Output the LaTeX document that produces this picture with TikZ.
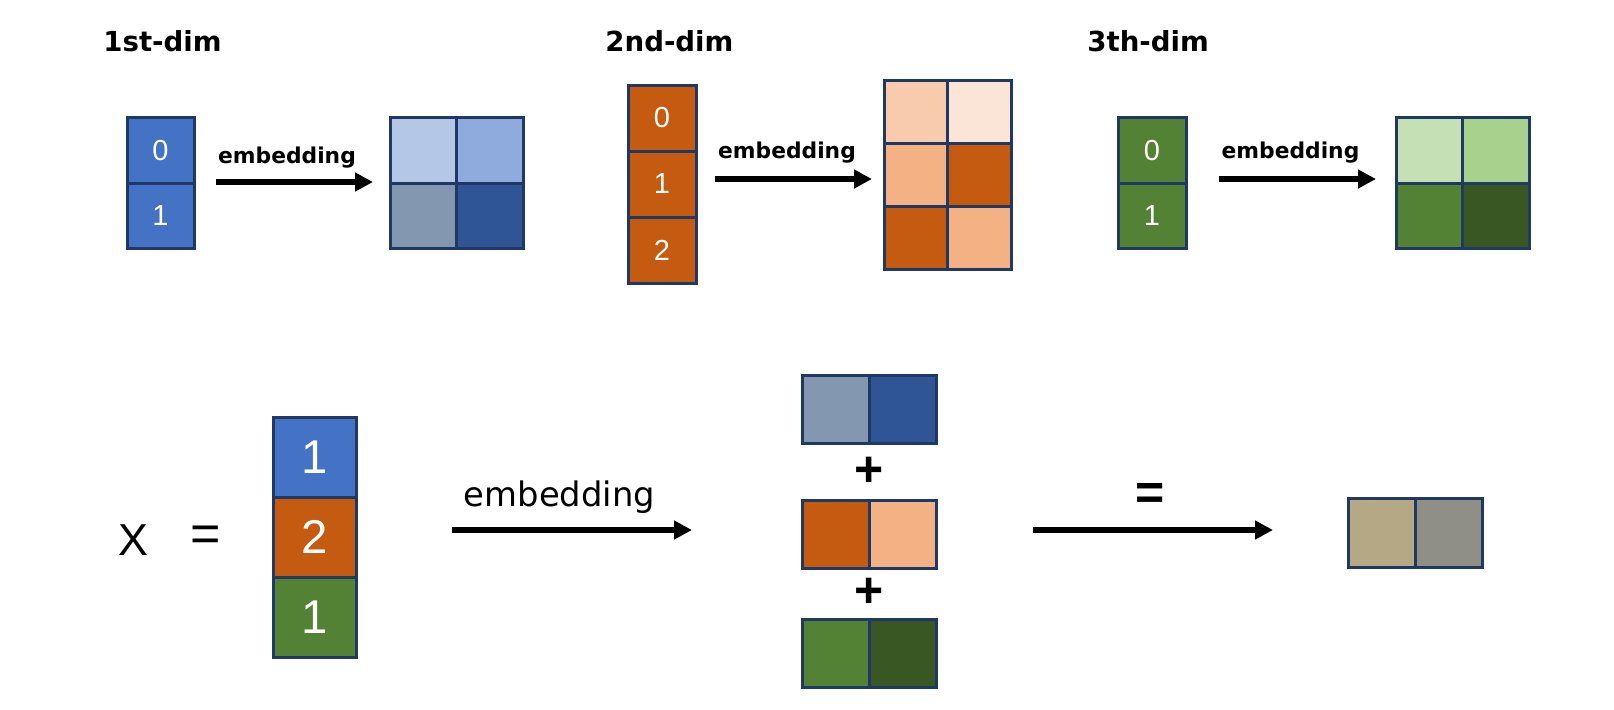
\documentclass[tikz,border=0pt]{standalone}
\usepackage{fontspec}
\setmainfont{DejaVu Sans}
\newfontfamily\lib{Liberation Sans}
\usetikzlibrary{arrows.meta}
\definecolor{navy}{HTML}{1F3864}
\definecolor{cblue}{HTML}{4472C4}
\definecolor{lbA}{HTML}{B4C7E7}
\definecolor{lbB}{HTML}{8FAADC}
\definecolor{gbl}{HTML}{8497B0}
\definecolor{dbl}{HTML}{2F5597}
\definecolor{corange}{HTML}{C55A11}
\definecolor{loA}{HTML}{F8CBAD}
\definecolor{loB}{HTML}{FBE5D6}
\definecolor{loC}{HTML}{F4B183}
\definecolor{cgreen}{HTML}{548235}
\definecolor{lgA}{HTML}{C5E0B4}
\definecolor{lgB}{HTML}{A9D18E}
\definecolor{dgr}{HTML}{385723}
\definecolor{tan}{HTML}{B5A885}
\definecolor{gry}{HTML}{8F8F85}
\tikzset{
  cell/.style={rectangle, draw=navy, line width=1.5pt, inner sep=0pt, text=white},
  smalldig/.style={font=\lib\fontsize{14.5}{14.5}\selectfont},
  bigdig/.style={font=\lib\fontsize{23.7}{23.7}\selectfont},
  sq/.style={minimum width=33.5pt, minimum height=32.75pt},
  colsq/.style={minimum width=34pt, minimum height=32.75pt},
  title/.style={font=\bfseries\fontsize{13.8}{13.8}\selectfont, anchor=base west, inner sep=0pt},
  smalllab/.style={font=\bfseries\fontsize{10.9}{10.9}\selectfont, anchor=base, inner sep=0pt},
  biglab/.style={font=\fontsize{16.9}{16.9}\selectfont, anchor=base, inner sep=0pt},
  arrsmall/.style={line width=2.8pt, -{Triangle[length=9pt,width=9pt]}},
  arrbig/.style={line width=3pt, -{Triangle[length=9pt,width=9pt]}},
  sym/.style={inner sep=0pt},
}
\begin{document}
\begin{tikzpicture}[x=0.5pt,y=-0.5pt]
\useasboundingbox (0,0) rectangle (1614,709);

% ---------- 1st-dim ----------
\node[title] (t1) at (103,51) {1st-dim};
\node[cell, smalldig, colsq, minimum width=33.5pt, fill=cblue] (a0) at (160.5,150.5) {0};
\node[cell, smalldig, colsq, minimum width=33.5pt, fill=cblue] (a1) at (160.5,216) {1};
\coordinate (as) at (216,182);
\coordinate (ae) at (373,182);
\draw[arrsmall] (as) -- (ae);
\node[smalllab] (l1) at (287,163) {embedding};
\node[cell, sq, minimum width=33.25pt, fill=lbA] (m11) at (423.25,150.5) {};
\node[cell, sq, minimum width=33.25pt, fill=lbB] (m12) at (489.75,150.5) {};
\node[cell, sq, minimum width=33.25pt, fill=gbl] (m21) at (423.25,216) {};
\node[cell, sq, minimum width=33.25pt, fill=dbl] (m22) at (489.75,216) {};

% ---------- 2nd-dim ----------
\node[title] (t2) at (605,51) {2nd-dim};
\node[cell, smalldig, minimum width=34pt, minimum height=33pt, fill=corange] (b0) at (662,118) {0};
\node[cell, smalldig, minimum width=34pt, minimum height=33pt, fill=corange] (b1) at (662,184) {1};
\node[cell, smalldig, minimum width=34pt, minimum height=33pt, fill=corange] (b2) at (662,250) {2};
\coordinate (bs) at (715,179);
\coordinate (be) at (872,179);
\draw[arrsmall] (bs) -- (be);
\node[smalllab] (l2) at (787,158) {embedding};
\tikzset{osq/.style={minimum width=31.75pt, minimum height=31.5pt}}
\node[cell, osq, fill=loA] (n11) at (915.75,111.5) {};
\node[cell, osq, fill=loB] (n12) at (979.25,111.5) {};
\node[cell, osq, fill=loC] (n21) at (915.75,174.5) {};
\node[cell, osq, fill=corange] (n22) at (979.25,174.5) {};
\node[cell, osq, fill=corange] (n31) at (915.75,237.5) {};
\node[cell, osq, fill=loC] (n32) at (979.25,237.5) {};

% ---------- 3th-dim ----------
\node[title] (t3) at (1087,51) {3th-dim};
\node[cell, smalldig, colsq, fill=cgreen] (c0) at (1152,150.5) {0};
\node[cell, smalldig, colsq, fill=cgreen] (c1) at (1152,216) {1};
\coordinate (cs) at (1219,179);
\coordinate (ce) at (1376,179);
\draw[arrsmall] (cs) -- (ce);
\node[smalllab] (l3) at (1290.5,158) {embedding};
\node[cell, sq, minimum width=33.25pt, fill=lgA] (p11) at (1429.25,150.5) {};
\node[cell, sq, minimum width=33.25pt, fill=lgB] (p12) at (1495.75,150.5) {};
\node[cell, sq, minimum width=33.25pt, fill=cgreen] (p21) at (1429.25,216) {};
\node[cell, sq, minimum width=33.25pt, fill=dgr] (p22) at (1495.75,216) {};

% ---------- bottom row ----------
\node[sym, anchor=base, font=\lib\fontsize{22.4}{22.4}\selectfont] (X) at (133.5,555) {X};
\node[sym, font=\lib\fontsize{26}{26}\selectfont] (eq1) at (205.5,539) {=};
\tikzset{xsq/.style={minimum width=41.5pt, minimum height=40pt}}
\node[cell, bigdig, xsq, fill=cblue] (x0) at (314.5,457) {1};
\node[cell, bigdig, xsq, fill=corange] (x1) at (314.5,537) {2};
\node[cell, bigdig, xsq, fill=cgreen] (x2) at (314.5,617) {1};

\node[biglab] (l4) at (559.5,506) {embedding};
\coordinate (ds) at (452,530);
\coordinate (de) at (692,530);
\draw[arrbig] (ds) -- (de);

\tikzset{rsq/.style={minimum width=33.5pt, minimum height=34pt}}
\node[cell, rsq, fill=gbl] (r1a) at (835.5,409.5) {};
\node[cell, rsq, fill=dbl] (r1b) at (902.5,409.5) {};
\node[sym, font=\lib\bfseries\fontsize{25}{25}\selectfont] (plus1) at (869,472) {+};
\node[cell, rsq, fill=corange] (r2a) at (835.5,534.5) {};
\node[cell, rsq, fill=loC] (r2b) at (902.5,534.5) {};
\node[sym, font=\lib\bfseries\fontsize{25}{25}\selectfont] (plus2) at (869,593) {+};
\node[cell, rsq, fill=cgreen] (r3a) at (835.5,653) {};
\node[cell, rsq, fill=dgr] (r3b) at (902.5,653) {};

\node[sym, font=\lib\bfseries\fontsize{25}{25}\selectfont] (eq2) at (1150,496.5) {=};
\coordinate (es) at (1033,530);
\coordinate (ee) at (1273,530);
\draw[arrbig] (es) -- (ee);

\node[cell, minimum width=33.5pt, minimum height=34.5pt, fill=tan] (s1) at (1381.5,532.5) {};
\node[cell, minimum width=33.5pt, minimum height=34.5pt, fill=gry] (s2) at (1448.5,532.5) {};
\end{tikzpicture}
\end{document}
